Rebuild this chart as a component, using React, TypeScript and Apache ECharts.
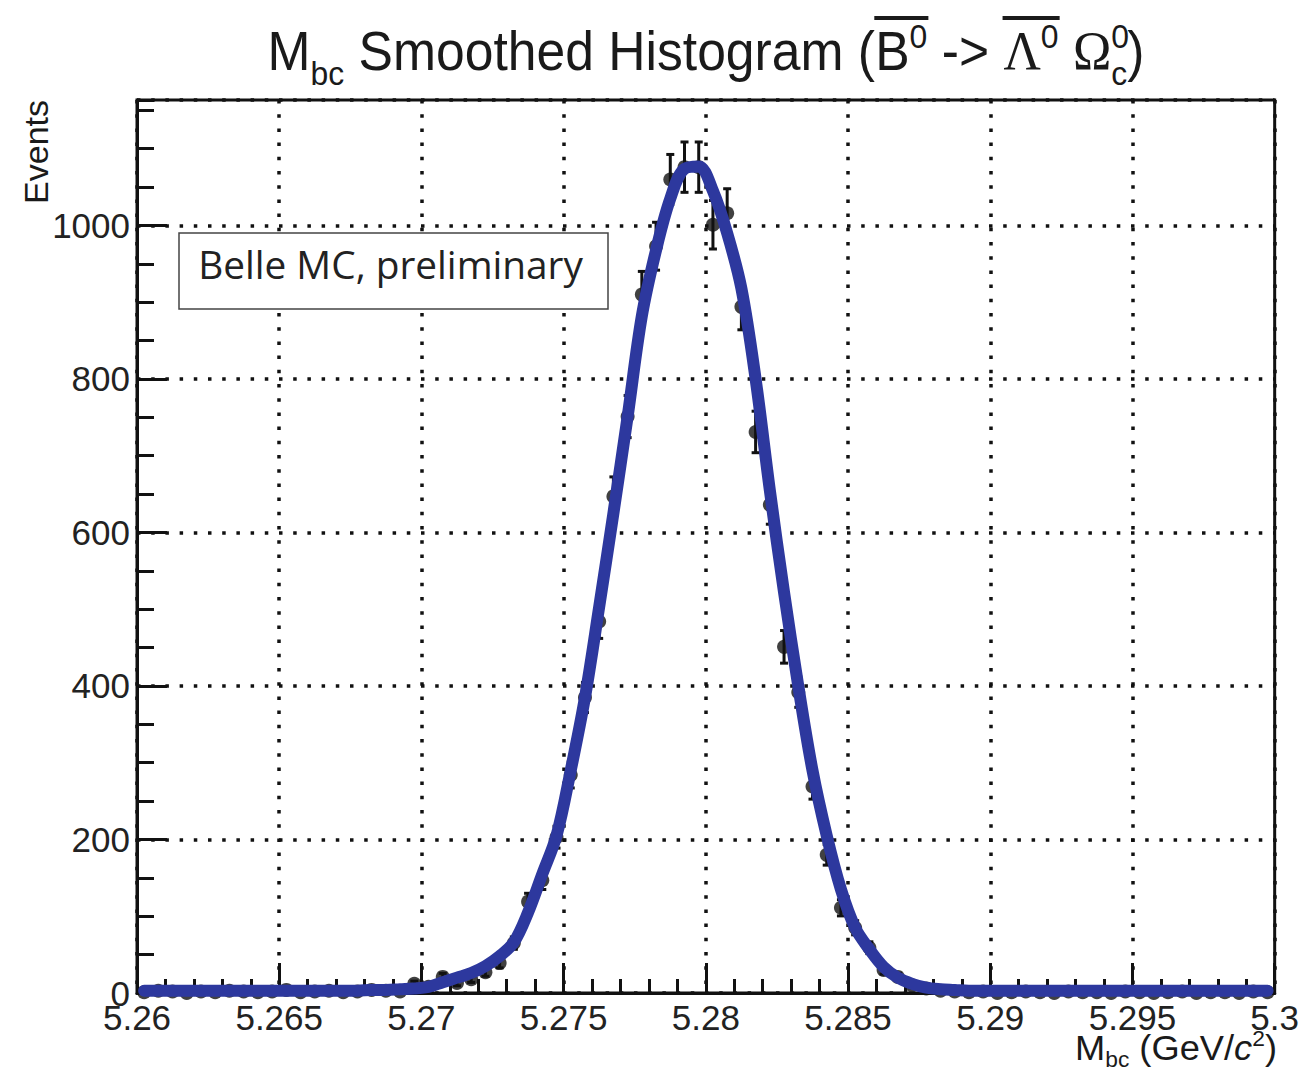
import React, { useEffect, useRef } from "react";
import * as echarts from "echarts";

// ---------------- data ----------------
const BIN_LOW = 5.26;
const BIN_WIDTH = 0.0005;
const BIN_COUNT = 80;

// histogram contents (events per bin)
const COUNTS = [
  1, 3, 2, 0, 2, 1, 3, 2, 1, 2, 4, 1, 2, 3, 1, 2, 4, 3, 2, 12,
  8, 21, 13, 18, 27, 39, 65, 119, 147, 203, 284, 385, 484, 647, 751,
  910, 973, 1060, 1076, 1076, 1001, 1016, 894, 731, 636, 451, 392, 269,
  180, 111, 85, 59, 30, 21, 10,
  6, 3, 2, 1, 2, 0, 1, 2, 1, 0, 2, 1, 1, 0, 2, 1, 0, 1, 2, 0, 1, 1, 0, 2, 1,
];

// smoothed curve, read at the bin centres
const CURVE = [
  3, 3, 3, 3, 3, 3, 3, 3, 3, 3, 3, 3, 3, 3, 3, 3, 4, 4, 5, 6,
  8, 14, 20, 26, 35, 48, 66, 105, 155, 205, 290, 385, 503, 625, 751,
  882, 968, 1035, 1074, 1077, 1045, 990, 918, 800, 655, 522, 400, 290,
  205, 135, 85, 57, 34, 20, 12,
  7, 5, 4, 3, 3, 3, 3, 3, 3, 3, 3, 3, 3, 3, 3, 3, 3, 3, 3, 3, 3, 3, 3, 3, 3,
];

const X_MIN = 5.26;
const X_MAX = 5.3;
const X_STEP = 0.005;
const Y_MIN = 0;
const Y_MAX = 1163.5;
const Y_STEP = 200;
const Y_MINOR_STEP = 50;

const TITLE_Y_AXIS = "Events";
const BOX_TEXT = "Belle MC, preliminary";

// ---------------- helpers ----------------
const SANS = '"Liberation Sans", Arial, Helvetica, sans-serif';
const SERIF = '"Liberation Serif", "DejaVu Serif", "Times New Roman", serif';
const INK = "#1a1a1a";

let _ctx: CanvasRenderingContext2D | null = null;
function textWidth(text: string, font: string): number {
  if (!_ctx) _ctx = document.createElement("canvas").getContext("2d");
  if (!_ctx) return text.length * 20;
  _ctx.font = font;
  return _ctx.measureText(text).width;
}

type Piece = {
  t: string;
  s: number;
  dy?: number;
  serif?: boolean;
  italic?: boolean;
  ol?: "start" | "end" | "both";
  noAdvance?: boolean;
};

function fontOf(p: Piece) {
  return `${p.italic ? "italic " : ""}${p.s}px ${p.serif ? SERIF : SANS}`;
}

function buildLine(
  pieces: Piece[],
  anchorX: number,
  baseline: number,
  align: "left" | "right" | "center",
  targetWidth?: number,
  olY?: number
) {
  let cx = 0;
  const children: any[] = [];
  let olStart = 0;
  for (const p of pieces) {
    const font = fontOf(p);
    const w = textWidth(p.t, font);
    if (p.ol === "start" || p.ol === "both") olStart = cx;
    children.push({
      type: "text",
      x: cx,
      y: baseline + (p.dy || 0) - 0.35 * p.s,
      style: {
        text: p.t,
        font,
        fill: INK,
        textAlign: "left",
        textVerticalAlign: "middle",
        align: "left",
        verticalAlign: "middle",
      },
    });
    if ((p.ol === "end" || p.ol === "both") && olY !== undefined) {
      children.push({
        type: "rect",
        shape: { x: olStart - 1, y: olY, width: cx + w - olStart + 2, height: 4 },
        style: { fill: INK },
      });
    }
    if (!p.noAdvance) cx += w;
  }
  const W = cx;
  let scaleX = 1;
  if (targetWidth) scaleX = Math.max(0.8, Math.min(1.15, targetWidth / W));
  const shown = W * scaleX;
  const x0 = align === "left" ? anchorX : align === "right" ? anchorX - shown : anchorX - shown / 2;
  return { type: "group", x: x0, y: 0, scaleX, scaleY: 1, children };
}

const fmtX = (v: number) => {
  const r = Math.round(v * 1000) / 1000;
  return String(r);
};

export default function App() {
  const ref = useRef<HTMLDivElement>(null);

  useEffect(() => {
    document.body.style.margin = "0";
    if (!ref.current) return;
    const chart = echarts.init(ref.current, undefined, { renderer: "svg" });

    const centers = Array.from({ length: BIN_COUNT }, (_, i) => BIN_LOW + (i + 0.5) * BIN_WIDTH);
    const points = centers.map((x, i) => [x, COUNTS[i]]);
    const errs = centers.map((x, i) => [x, COUNTS[i], Math.sqrt(COUNTS[i])]);
    const curve = centers.map((x, i) => [x, CURVE[i]]);

    // title
    const titleBase = 70;
    const title = buildLine(
      [
        { t: "M", s: 55 },
        { t: "bc", s: 34, dy: 15 },
        { t: " Smoothed Histogram (", s: 55 },
        { t: "B", s: 55, ol: "start" },
        { t: "0", s: 34, dy: -22, ol: "end" },
        { t: " -> ", s: 55 },
        { t: "Λ", s: 55, serif: true, ol: "start" },
        { t: "0", s: 34, dy: -22, ol: "end" },
        { t: " ", s: 55 },
        { t: "Ω", s: 55, serif: true },
        { t: "0", s: 34, dy: -22, noAdvance: true },
        { t: "c", s: 34, dy: 15 },
        { t: ")", s: 55 },
      ],
      706,
      titleBase,
      "center",
      877,
      titleBase - 54
    );

    const xTitle = buildLine(
      [
        { t: "M", s: 35 },
        { t: "bc", s: 22, dy: 7 },
        { t: " (GeV/", s: 35 },
        { t: "c", s: 35, italic: true },
        { t: "2", s: 22, dy: -14 },
        { t: ")", s: 35 },
      ],
      1277,
      1060,
      "right",
      202
    );

    // Belle box text sizing
    const boxFontBase = 36;
    const bw = textWidth(BOX_TEXT, `${boxFontBase}px "Open Sans", "Noto Sans", sans-serif`);
    const boxFont = Math.max(30, Math.min(42, (boxFontBase * 385) / (bw || 385)));

    const dotted = { color: "#111", width: 3.5, type: [3.5, 10.7] as any };

    const option: any = {
      animation: false,
      backgroundColor: "#ffffff",
      grid: {
        left: 137,
        right: 27,
        top: 100,
        bottom: 81,
        show: true,
        borderColor: "#111",
        borderWidth: 3,
        backgroundColor: "transparent",
      },
      xAxis: {
        type: "value",
        min: X_MIN,
        max: X_MAX,
        interval: X_STEP,
        axisLine: { show: true, onZero: false, lineStyle: { color: "#111", width: 3 } },
        axisTick: { show: true, inside: true, length: 30, lineStyle: { color: "#111", width: 3 } },
        minorTick: { show: true, splitNumber: 5, length: 14, lineStyle: { color: "#111", width: 3 } },
        axisLabel: {
          show: true,
          margin: 9,
          fontSize: 35,
          lineHeight: 30,
          fontFamily: SANS,
          color: "#222",
          formatter: fmtX,
          showMinLabel: true,
          showMaxLabel: true,
        },
        splitLine: { show: true, lineStyle: dotted },
      },
      yAxis: [
        {
          type: "value",
          min: Y_MIN,
          max: Y_MAX,
          interval: Y_STEP,
          position: "left",
          axisLine: { show: true, lineStyle: { color: "#111", width: 3 } },
          axisTick: { show: true, inside: true, length: 30, lineStyle: { color: "#111", width: 3 } },
          axisLabel: {
            show: true,
            margin: 7,
            fontSize: 35,
            lineHeight: 20,
            fontFamily: SANS,
            color: "#222",
            showMaxLabel: false,
            formatter: (v: number) => (Math.abs(v % Y_STEP) < 1e-6 ? String(v) : ""),
          },
          splitLine: { show: true, lineStyle: dotted },
        },
        {
          type: "value",
          min: Y_MIN,
          max: Y_MAX,
          interval: Y_MINOR_STEP,
          position: "left",
          axisLine: { show: false },
          axisTick: { show: true, inside: true, length: 17, lineStyle: { color: "#111", width: 3 } },
          axisLabel: { show: false },
          splitLine: { show: false },
        },
      ],
      series: [
        {
          type: "scatter",
          data: points,
          symbol: "circle",
          symbolSize: 14,
          itemStyle: { color: "#111" },
          clip: false,
          z: 3,
        },
        {
          type: "custom",
          data: errs,
          dimensions: ["x", "y", "err"],
          encode: { x: 0, y: 1 },
          clip: false,
          z: 3,
          renderItem: (params: any, api: any) => {
            const x = api.value(0);
            const y = api.value(1);
            const e = api.value(2);
            if (!(e > 0)) return null;
            const p1 = api.coord([x, y + e]);
            const p2 = api.coord([x, Math.max(0, y - e)]);
            const cap = 4;
            const st = { stroke: "#111", lineWidth: 3 };
            return {
              type: "group",
              children: [
                { type: "line", shape: { x1: p1[0], y1: p1[1], x2: p2[0], y2: p2[1] }, style: st },
                { type: "line", shape: { x1: p1[0] - cap, y1: p1[1], x2: p1[0] + cap, y2: p1[1] }, style: st },
                { type: "line", shape: { x1: p2[0] - cap, y1: p2[1], x2: p2[0] + cap, y2: p2[1] }, style: st },
              ],
            };
          },
        },
        {
          type: "line",
          data: curve,
          showSymbol: false,
          symbol: "none",
          smooth: 0.35,
          clip: false,
          lineStyle: { color: "#2d389e", width: 12, cap: "round", join: "round" },
          z: 5,
        },
      ],
      graphic: [
        title,
        xTitle,
        {
          type: "text",
          x: 36,
          y: 100,
          rotation: Math.PI / 2,
          style: {
            text: TITLE_Y_AXIS,
            font: `34px ${SANS}`,
            fill: INK,
            textAlign: "right",
            textVerticalAlign: "middle",
            align: "right",
            verticalAlign: "middle",
          },
        },
        {
          type: "rect",
          shape: { x: 179, y: 233, width: 429, height: 76 },
          style: { fill: "#fff", stroke: "#444", lineWidth: 1.5 },
          z: 100,
        },
        {
          type: "text",
          x: 390.5,
          y: 279 - 0.38 * boxFont,
          z: 101,
          style: {
            text: BOX_TEXT,
            font: `${boxFont}px "Open Sans", "Noto Sans", sans-serif`,
            fill: "#222",
            textAlign: "center",
            textVerticalAlign: "middle",
            align: "center",
            verticalAlign: "middle",
          },
        },
      ],
    };

    chart.setOption(option);
    return () => chart.dispose();
  }, []);

  return <div ref={ref} style={{ width: 1302, height: 1074 }} />;
}
